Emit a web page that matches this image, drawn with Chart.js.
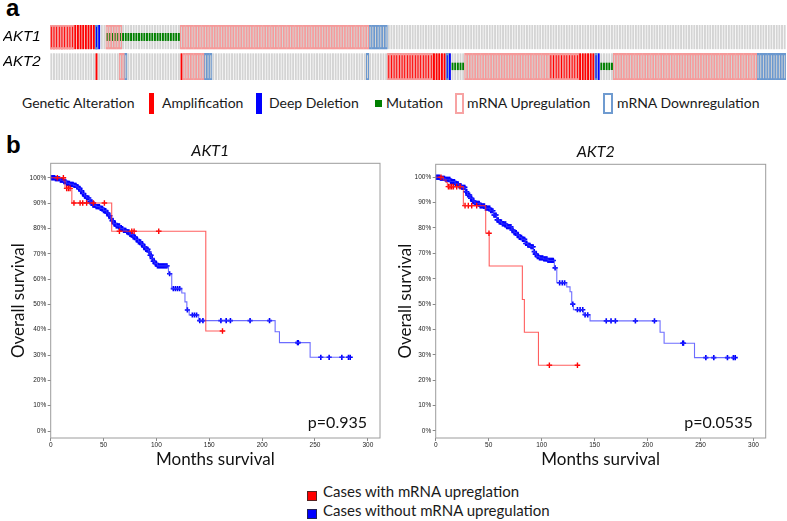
<!DOCTYPE html>
<html>
<head>
<meta charset="utf-8">
<script src="https://cdn.jsdelivr.net/npm/chart.js@4.4.1/dist/chart.umd.min.js"></script>
<style>
  html, body { margin: 0; padding: 0; background: #fff; }
  body { width: 787px; height: 521px; position: relative; overflow: hidden; font-family: Lato, "Open Sans", sans-serif; }
  canvas { position: absolute; }
  .panel { position: absolute; font: bold 24px "Liberation Sans", Arial, sans-serif; line-height: 24px; color: #000; }
  .txt { position: absolute; white-space: nowrap; font-size: 14px; line-height: 20px; color: #1a1a1a; }
  .big { font-size: 15px; }
  .sw { position: absolute; box-sizing: border-box; }
</style>
</head>
<body>

<div class="panel" style="left:6px; top:-4px">a</div>
<canvas id="onco" width="787" height="57" style="left:0; top:24px"></canvas>

<!-- legend oncoprint -->
<div class="txt" style="left:22px; top:93px">Genetic Alteration</div>
<div class="sw" style="left:149px; top:93px; width:5px; height:21px; background:#ff0000"></div>
<div class="txt" style="left:162px; top:93px">Amplification</div>
<div class="sw" style="left:256px; top:93px; width:6px; height:21px; background:#0000ff"></div>
<div class="txt" style="left:269px; top:93px">Deep Deletion</div>
<div class="sw" style="left:375px; top:100px; width:7px; height:7px; background:#008000"></div>
<div class="txt" style="left:386px; top:93px">Mutation</div>
<div class="sw" style="left:455px; top:93px; width:9px; height:21px; border:2px solid #f7a3a3"></div>
<div class="txt" style="left:467px; top:93px">mRNA Upregulation</div>
<div class="sw" style="left:603px; top:93px; width:10px; height:21px; border:2px solid #6f9bd0"></div>
<div class="txt" style="left:617px; top:93px">mRNA Downregulation</div>

<div class="panel" style="left:6px; top:133px">b</div>
<canvas id="km1" width="392" height="335" style="left:0; top:135px"></canvas>
<canvas id="km2" width="395" height="335" style="left:392px; top:135px"></canvas>

<!-- legend survival -->
<div class="sw" style="left:307px; top:491px; width:10px; height:10px; background:#ff0000; border:1px solid #552222"></div>
<div class="txt big" style="left:323px; top:481px">Cases with mRNA upreglation</div>
<div class="sw" style="left:307px; top:509px; width:10px; height:10px; background:#0000ff; border:1px solid #222255"></div>
<div class="txt big" style="left:323px; top:500px">Cases without mRNA upregulation</div>

<script>
// ---- oncoprint (a) ----
const nCases = 277;
const geneNames = ['AKT1', 'AKT2'];

// alteration runs, as [first case, last case]
const akt1Amp = [[0, 16]];
const akt1Del = [[17, 18]];
const akt1Mut = [[21, 48]];
const akt1Up = [[0, 8], [21, 26], [49, 119]];
const akt1Down = [[17, 17], [120, 126]];

const akt2Amp = [[17, 17], [49, 49], [127, 148], [188, 204]];
const akt2Del = [[149, 150], [205, 206]];
const akt2Mut = [[151, 155], [207, 211]];
const akt2Up = [[26, 27], [50, 57], [127, 143], [156, 187], [188, 198], [212, 265]];
const akt2Down = [[28, 28], [58, 60], [119, 119], [149, 149], [205, 205], [266, 276]];

// ---- survival (b) ----
// AKT1, cases with mRNA upregulation
const akt1UpEventMonths = [13.5, 20, 57.7, 146.7];
const akt1UpEventSurv = [95.8, 90, 78.9, 39.5];
const akt1UpCensorMonths = [6.3, 12, 15.1, 16.7, 18.3, 22, 27.8, 30.3, 34, 40.4, 50.8, 65, 76.7, 78.9, 102.2, 162.5];

// AKT1, cases without mRNA upregulation
const akt1NoEventMonths = [4, 9, 12, 15, 18, 21.5, 24, 26, 28, 30, 32, 34, 37, 40, 43, 46.7, 50, 53, 55, 56.5, 58, 59.3, 62, 65.6, 69, 72, 75, 78, 80.5, 83, 85.5, 87.7, 90, 92.4, 94, 95.6, 97, 98.5, 101, 111.4, 114.5, 124, 127, 128.8, 131, 140, 212.3, 216.4, 245.4];
const akt1NoEventSurv = [99.6, 99, 98.5, 97.8, 97.4, 97, 96.4, 95.8, 94.8, 93.8, 92.8, 92, 90.5, 89.2, 88.6, 87.9, 87, 86.1, 85, 83.9, 83, 81.9, 81, 79.9, 79.2, 78.6, 77.6, 76.6, 75.6, 74.7, 73.7, 72.7, 71.7, 70.7, 69.4, 68.1, 67, 66.1, 65.2, 62.1, 56.2, 54.5, 51, 47.8, 45.8, 43.6, 39.2, 34.9, 29.1];
const akt1NoCensorMonths = [0.3, 0.8, 1.3, 1.8, 2.3, 2.8, 3.3, 3.8, 4.5, 5.2, 6, 6.8, 7.5, 8.3, 9.2, 10, 10.8, 11.6, 12.5, 13.3, 14.2, 15.1, 16, 16.8, 17.7, 18.6, 19.5, 20.3, 21.2, 22.1, 23, 23.9, 24.8, 25.7, 26.6, 27.5, 28.4, 29.3, 30.2, 31.1, 32, 33, 34, 35, 36, 37.1, 38, 39, 40, 41, 42, 43, 44, 45, 46, 47, 48, 49, 50, 51, 52, 53, 54, 55, 56, 57, 58, 59, 60, 61, 62, 63, 64, 65, 66, 67, 68, 69, 70, 71, 72, 73, 74, 75, 76, 77, 78, 79, 80, 81, 82, 83, 84, 85, 86, 87, 88, 89, 90, 91, 92, 93, 94, 95, 96, 97, 98, 99, 100, 101, 102, 103, 104, 105, 106, 107, 108, 109, 110, 112.5, 116, 118, 120, 122, 129.3, 134, 136, 138, 141, 144, 161, 166, 170, 188.6, 207, 233.5, 234.2, 255.5, 263.4, 275.4, 281.7, 283.3];

// AKT2, cases with mRNA upregulation
const akt2UpEventMonths = [7.2, 9.8, 11, 26.1, 47.2, 50.5, 81.8, 83.7, 97];
const akt2UpEventSurv = [98.9, 97.9, 96.3, 88.8, 77.9, 65, 51.8, 38.9, 25.9];
const akt2UpCensorMonths = [5, 12, 13.5, 15.1, 16.7, 19.8, 23, 27.7, 30.8, 34, 38.7, 50.3, 107.3, 133.8];

// AKT2, cases without mRNA upregulation
const akt2NoEventMonths = [4, 8.8, 13.5, 18.3, 22, 24.6, 27.7, 30, 32.4, 35, 37, 41.9, 46.6, 51.3, 54.5, 57.6, 60, 62.3, 67, 71.8, 74, 76.5, 79, 81.2, 84.4, 87, 89.1, 92.2, 94, 95.4, 98, 101.7, 106, 112, 114.3, 123.7, 126.8, 128.4, 130, 139.4, 145.7, 211.8, 215.6, 244.3];
const akt2NoEventSurv = [99.6, 99.2, 98.3, 97.4, 96.6, 96, 94.3, 93, 91.7, 90.6, 89.7, 88.7, 87.8, 86.8, 85.1, 83.2, 82.4, 81.6, 80.5, 79.2, 78.2, 77.2, 76.3, 75.5, 73.9, 73.2, 72.6, 70.7, 69.7, 68.7, 68.2, 67.8, 67.2, 64.3, 58.4, 56.8, 54.9, 50, 47.8, 45.8, 43.4, 38.9, 34.6, 28.9];
const akt2NoCensorMonths = [0.3, 0.8, 1.3, 1.8, 2.3, 2.8, 3.3, 3.8, 4.5, 5.2, 6, 6.8, 7.5, 8.3, 9.2, 10, 10.8, 11.6, 12.5, 13.3, 14.2, 15.1, 16, 16.8, 17.7, 18.6, 19.5, 20.3, 21.2, 22.1, 23, 23.9, 24.8, 25.7, 26.6, 27.5, 28.4, 29.3, 30.2, 31.1, 32, 33, 34, 35, 36, 37.1, 38, 39, 40, 41, 42, 43, 44, 45, 46, 47, 48, 49, 50, 51, 52, 53, 54, 55, 56, 57, 58, 59, 60, 61, 62, 63, 64, 65, 66, 67, 68, 69, 70, 71, 72, 73, 74, 75, 76, 77, 78, 79, 80, 81, 82, 83, 84, 85, 86, 87, 88, 89, 90, 91, 92, 93, 94, 95, 96, 97, 98, 99, 100, 101, 102, 103, 104, 105, 106, 107, 108, 109, 110, 111, 112.7, 117, 119.5, 121.7, 129.4, 133.8, 136.3, 138.8, 141, 143.5, 161, 165.5, 169.6, 188.5, 206.5, 233.2, 233.9, 255, 262.5, 275.4, 281, 282.7];

const pValues = ['p=0.935', 'p=0.0535'];

// ---------- oncoprint ----------
// row bands on the y scale (0..2)
const rowBand = { AKT1: [1.12, 2], AKT2: [0, 0.97] };
const mutBand = { AKT1: [1.42, 1.71], AKT2: [0.36, 0.63] };
const labelPos = [1.57, 0.65];

function expand(segs, band) {
    const out = new Array(nCases).fill(null);
    segs.forEach(([a, b]) => {
        for (let i = a; i <= b; i++) out[i] = band.slice();
    });
    return out;
}

function oncoSets(gene, amp, del, mut, up, down) {
    const band = rowBand[gene];
    const base = { grouped: false, categoryPercentage: 1, borderSkipped: false };
    const fillW = 0.72;
    return [
        { ...base, label: gene + ' bg', data: expand([[0, nCases - 1]], band), backgroundColor: '#d4d4d4', barPercentage: fillW, order: 4 },
        { ...base, label: gene + ' amp', data: expand(amp, band), backgroundColor: '#ff0000', barPercentage: fillW, order: 3 },
        { ...base, label: gene + ' del', data: expand(del, band), backgroundColor: '#0000ff', barPercentage: fillW, order: 2 },
        { ...base, label: gene + ' mut', data: expand(mut, mutBand[gene]), backgroundColor: '#008000', barPercentage: fillW, order: 1 },
        { ...base, label: gene + ' up', data: expand(up, band), backgroundColor: 'rgba(0,0,0,0)', borderColor: '#f59a9a',
          borderWidth: { top: 1.5, bottom: 1.5, left: 0.5, right: 0.5 }, barPercentage: 1, order: 0 },
        { ...base, label: gene + ' down', data: expand(down, band), backgroundColor: 'rgba(0,0,0,0)', borderColor: '#6b98cf',
          borderWidth: { top: 1.5, bottom: 1.5, left: 0.5, right: 0.5 }, barPercentage: 1, order: 0 }
    ];
}

new Chart(document.getElementById('onco'), {
    type: 'bar',
    data: {
        labels: Array.from({ length: nCases }, (_, i) => i + 1),
        datasets: [
            ...oncoSets('AKT1', akt1Amp, akt1Del, akt1Mut, akt1Up, akt1Down),
            ...oncoSets('AKT2', akt2Amp, akt2Del, akt2Mut, akt2Up, akt2Down)
        ]
    },
    options: {
        responsive: false,
        animation: false,
        layout: { padding: { left: 3, right: 1, top: 1, bottom: 1 } },
        plugins: { legend: { display: false }, tooltip: { enabled: false } },
        scales: {
            x: { display: false },
            y: {
                min: 0, max: 2,
                grid: { display: false },
                border: { display: false },
                afterFit: s => { s.width = 47; s.paddingTop = 0; s.paddingBottom = 0; },
                afterBuildTicks: s => { s.ticks = labelPos.map(v => ({ value: v })); },
                ticks: {
                    autoSkip: false,
                    crossAlign: 'far',
                    padding: 0,
                    color: '#000',
                    font: { family: '"Liberation Sans", Arial, sans-serif', size: 15, style: 'italic' },
                    callback: (v, i) => geneNames[i]
                }
            }
        }
    }
});

// ---------- survival ----------
function stepPoints(evT, evS, endT) {
    const pts = [{ x: 0, y: 100 }];
    evT.forEach((t, i) => pts.push({ x: t, y: evS[i] }));
    pts.push({ x: endT, y: evS[evS.length - 1] });
    return pts;
}

function censorPoints(cenT, evT, evS) {
    return cenT.map(t => {
        let s = 100;
        evT.forEach((et, i) => { if (et <= t) s = evS[i]; });
        return { x: t, y: s };
    });
}

const tickFont = { family: '"Liberation Sans", Arial, sans-serif', size: 6.5 };
const bigFont = { family: 'Lato, "Open Sans", sans-serif', size: 17 };

function drawKm(id, gene, pText, up, no, cfg) {
    const annot = {
        id: 'annot',
        afterDraw(chart) {
            const { ctx, chartArea: a } = chart;
            ctx.save();
            ctx.strokeStyle = '#9c9c9c';
            ctx.lineWidth = 1;
            ctx.strokeRect(a.left, a.top, a.right - a.left, a.bottom - a.top);
            ctx.fillStyle = '#111';
            ctx.font = 'italic 16px Lato, sans-serif';
            ctx.textAlign = 'center';
            ctx.textBaseline = 'middle';
            ctx.fillText(gene, (a.left + a.right) / 2 - 5, a.top - 12.5);
            ctx.font = '16px Lato, sans-serif';
            ctx.textAlign = 'right';
            ctx.textBaseline = 'alphabetic';
            ctx.fillText(pText, a.right - 13, a.bottom - 10);
            ctx.restore();
        }
    };

    new Chart(document.getElementById(id), {
        type: 'scatter',
        data: {
            datasets: [
                { label: 'up line', data: stepPoints(up.evT, up.evS, Math.max(...up.cenT)), showLine: true, stepped: 'before',
                  borderColor: 'rgba(255,40,40,0.75)', borderWidth: 1.1, pointRadius: 0, order: 0 },
                { label: 'up censor', data: censorPoints(up.cenT, up.evT, up.evS), pointStyle: 'cross', pointRadius: 2.8,
                  borderColor: '#ff0000', borderWidth: 1.4, order: 0 },
                { label: 'no line', data: stepPoints(no.evT, no.evS, Math.max(...no.cenT)), showLine: true, stepped: 'before',
                  borderColor: 'rgba(60,60,255,0.75)', borderWidth: 1.1, pointRadius: 0, order: 1 },
                { label: 'no censor', data: censorPoints(no.cenT, no.evT, no.evS), pointStyle: 'cross', pointRadius: 2.6,
                  borderColor: '#0000ff', borderWidth: 1.6, order: 1 }
            ]
        },
        options: {
            responsive: false,
            animation: false,
            layout: { padding: { left: 0, right: cfg.padRight, top: cfg.padTop, bottom: 0 } },
            plugins: { legend: { display: false }, tooltip: { enabled: false } },
            scales: {
                x: {
                    type: 'linear',
                    min: 0, max: 311.5,
                    afterFit: s => { s.height = 32; },
                    border: { display: false },
                    grid: { drawOnChartArea: false, tickLength: 3, color: '#888' },
                    ticks: { stepSize: 50, includeBounds: false, padding: 0, color: '#222', font: tickFont, maxRotation: 0 },
                    title: { display: true, text: 'Months survival', color: '#111', font: bigFont, padding: 0 }
                },
                y: {
                    min: -2.76, max: cfg.yMax,
                    afterFit: s => { s.width = cfg.yAxisW; },
                    border: { display: false },
                    grid: { drawOnChartArea: false, tickLength: 3, color: '#888' },
                    ticks: { stepSize: 10, includeBounds: false, padding: 1.5, color: '#222', font: tickFont,
                             callback: v => v + '%' },
                    title: { display: true, text: 'Overall survival', color: '#111', font: bigFont,
                             padding: { top: cfg.titlePad, bottom: 0 } }
                }
            }
        },
        plugins: [annot]
    });
}

drawKm('km1', geneNames[0], pValues[0],
    { evT: akt1UpEventMonths, evS: akt1UpEventSurv, cenT: akt1UpCensorMonths },
    { evT: akt1NoEventMonths, evS: akt1NoEventSurv, cenT: akt1NoCensorMonths },
    { padRight: 12, padTop: 28.3, yAxisW: 50.7, titlePad: 8.8, yMax: 105.7 });

drawKm('km2', geneNames[1], pValues[1],
    { evT: akt2UpEventMonths, evS: akt2UpEventSurv, cenT: akt2UpCensorMonths },
    { evT: akt2NoEventMonths, evS: akt2NoEventSurv, cenT: akt2NoCensorMonths },
    { padRight: 21.3, padTop: 29.3, yAxisW: 43.7, titlePad: 3.3, yMax: 105.1 });
</script>
</body>
</html>
